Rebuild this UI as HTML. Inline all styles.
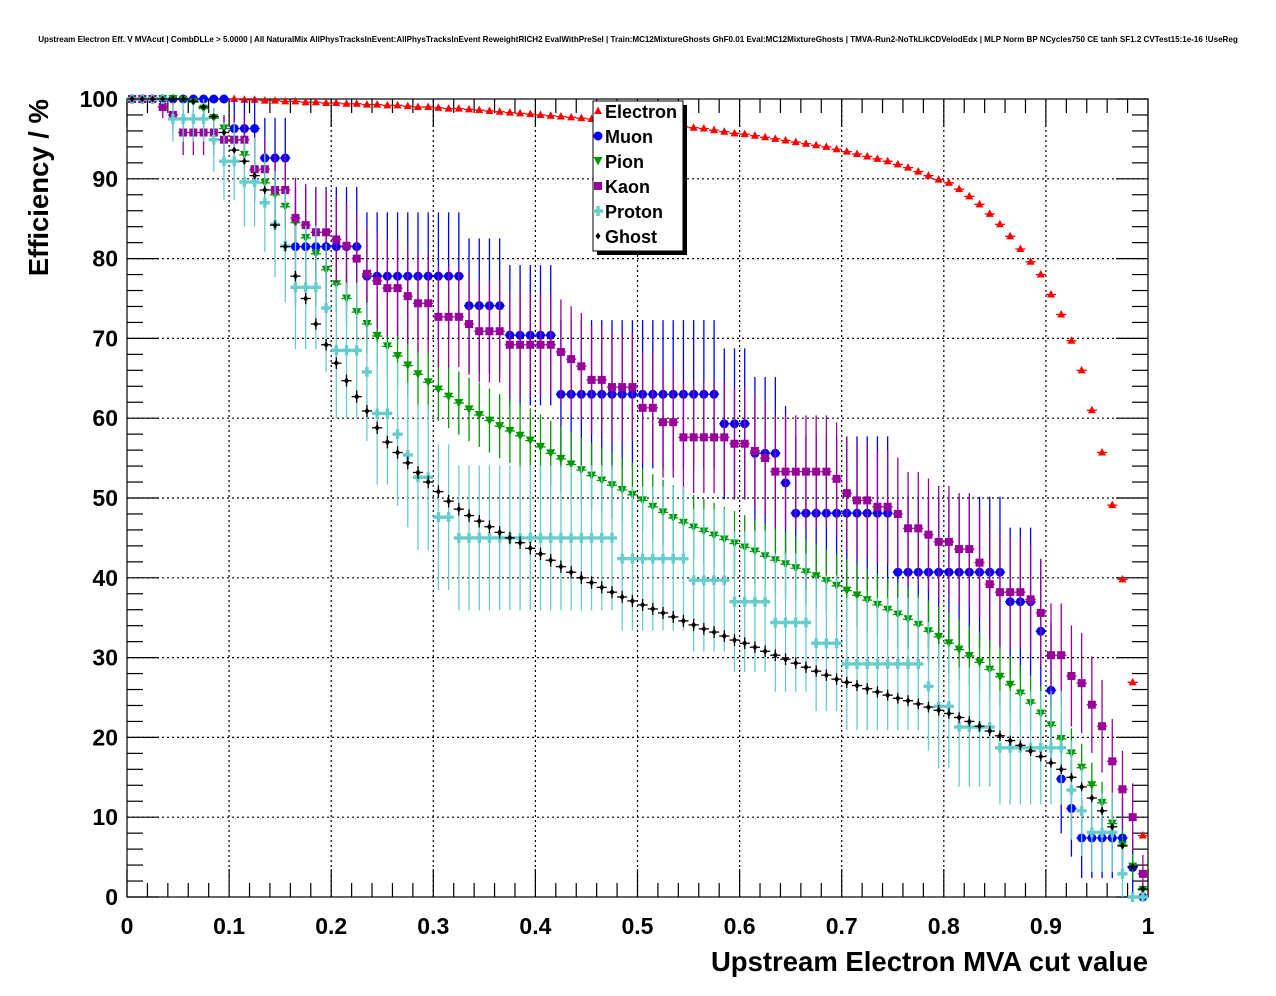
<!DOCTYPE html>
<html><head><meta charset="utf-8"><style>
body{margin:0;background:#fff;}
svg{display:block;font-family:"Liberation Sans",sans-serif;}
</style></head><body>
<svg id="c" width="1276" height="996" viewBox="0 0 1276 996">
<rect width="1276" height="996" fill="#fff"/>
<text x="638" y="42" font-size="8.05" font-weight="bold" text-anchor="middle">Upstream Electron Eff. V MVAcut | CombDLLe &gt; 5.0000 | All NaturalMix AllPhysTracksInEvent:AllPhysTracksInEvent ReweightRICH2 EvalWithPreSel | Train:MC12MixtureGhosts GhF0.01 Eval:MC12MixtureGhosts | TMVA-Run2-NoTkLikCDVelodEdx | MLP Norm BP NCycles750 CE tanh SF1.2 CVTest15:1e-16 !UseReg</text>
<g id="grid"></g>
<g id="axes"></g>
<g id="data"></g>
<g id="legend"></g>
<text x="0" y="0" transform="translate(48,99) rotate(-90)" font-size="27.5" font-weight="bold" text-anchor="end">Efficiency / %</text>
<text x="1148" y="971" font-size="27.5" font-weight="bold" text-anchor="end">Upstream Electron MVA cut value</text>
</svg>
<script>
const xTicks=[0,0.1,0.2,0.3,0.4,0.5,0.6,0.7,0.8,0.9,1];
const xTickLabels=["0","0.1","0.2","0.3","0.4","0.5","0.6","0.7","0.8","0.9","1"];
const yTicks=[0,10,20,30,40,50,60,70,80,90,100];
const yTickLabels=["0","10","20","30","40","50","60","70","80","90","100"];
const electron=[100,100,100,100,100,100,100,100,100,100,
100,99.9,99.9,99.8,99.8,99.7,99.7,99.6,99.6,99.5,
99.5,99.4,99.4,99.3,99.3,99.2,99.2,99.1,99.0,99.0,
98.9,98.8,98.8,98.7,98.6,98.5,98.4,98.3,98.2,98.1,
98.0,97.9,97.8,97.7,97.6,97.5,97.4,97.3,97.2,97.0,
96.9,96.8,96.7,96.6,96.5,96.4,96.3,96.1,95.9,95.7,
95.6,95.4,95.2,95.0,94.8,94.6,94.4,94.2,94.0,93.7,
93.4,93.1,92.8,92.5,92.2,91.8,91.4,90.9,90.4,89.9,
89.5,88.7,87.8,86.8,85.6,84.3,82.8,81.2,79.6,78.0,
75.5,73.0,69.7,66.0,61.0,55.7,49.1,39.8,26.9,7.7];
const muon=[100,100,100,100,100,100,100,100,100,100,
96.3,96.3,96.3,92.6,92.6,92.6,81.5,81.5,81.5,81.5,
81.5,81.5,81.5,77.8,77.8,77.8,77.8,77.8,77.8,77.8,
77.8,77.8,77.8,74.1,74.1,74.1,74.1,70.4,70.4,70.4,
70.4,70.4,63.0,63.0,63.0,63.0,63.0,63.0,63.0,63.0,
63.0,63.0,63.0,63.0,63.0,63.0,63.0,63.0,59.3,59.3,
59.3,55.6,55.6,55.6,51.9,48.1,48.1,48.1,48.1,48.1,
48.1,48.1,48.1,48.1,48.1,40.7,40.7,40.7,40.7,40.7,
40.7,40.7,40.7,40.7,40.7,40.7,37.0,37.0,37.0,33.3,
25.9,14.8,11.1,7.4,7.4,7.4,7.4,7.4,3.7,0];
const pion=[100,100,100,100,100,99.9,99.6,98.8,97.6,96.3,
94.8,93.0,91.0,89.5,88.0,86.5,84.5,82.6,80.6,78.6,
76.8,75.0,73.3,71.8,70.3,69.0,67.8,66.6,65.5,64.5,
63.6,62.7,61.9,61.1,60.4,59.7,59.0,58.4,57.8,57.2,
56.4,55.6,54.9,54.2,53.5,52.8,52.2,51.6,51.0,50.4,
49.7,48.9,48.2,47.5,46.9,46.3,45.8,45.3,44.8,44.3,
43.8,43.3,42.7,42.2,41.7,41.2,40.7,40.2,39.6,39.0,
38.4,37.8,37.2,36.6,36.0,35.4,34.8,34.1,33.3,32.6,
31.8,31.0,30.2,29.4,28.5,27.6,26.6,25.5,24.3,23.0,
21.5,19.8,18.0,16.2,14.0,11.8,9.2,6.5,3.8,0.9];
const kaon=[100,100,100,99.0,98.0,95.8,95.8,95.8,95.8,94.9,
94.9,94.9,91.2,91.2,88.6,88.6,85.1,84.2,83.3,83.3,
82.4,81.6,80.0,78.1,77.2,76.3,76.3,75.3,74.4,74.4,
72.7,72.7,72.7,71.8,70.9,70.9,70.9,69.2,69.2,69.2,
69.2,69.2,68.3,67.4,66.5,64.8,64.8,63.9,63.9,63.9,
61.3,61.3,59.5,59.5,57.6,57.6,57.6,57.6,57.6,56.8,
56.8,55.9,55.0,53.3,53.3,53.3,53.3,53.3,53.3,52.4,
50.6,49.7,49.7,48.9,48.9,48.0,46.2,46.2,45.4,44.5,
44.5,43.6,43.6,41.9,39.2,38.2,38.2,38.2,37.3,35.6,
30.3,30.3,27.7,26.8,24.1,21.4,17.0,13.5,10.0,2.9];
const proton=[100,100,100,100,97.5,97.5,97.5,97.5,94.9,92.2,
92.2,89.6,89.6,87.0,84.3,81.6,76.4,76.4,76.4,73.8,
68.5,68.5,68.5,65.8,60.6,60.6,58.0,55.4,52.6,52.6,
47.6,47.6,45.0,45.0,45.0,45.0,45.0,45.0,45.0,45.0,
45.0,45.0,45.0,45.0,45.0,45.0,45.0,45.0,42.4,42.4,
42.4,42.4,42.4,42.4,42.4,39.7,39.7,39.7,39.7,37.0,
37.0,37.0,37.0,34.4,34.4,34.4,34.4,31.8,31.8,31.8,
29.2,29.2,29.2,29.2,29.2,29.2,29.2,29.2,26.4,23.9,
23.9,21.3,21.3,21.3,21.3,18.7,18.7,18.7,18.7,18.7,
18.7,18.7,13.4,10.8,8.1,8.1,8.1,2.9,0,0];
const ghost=[100,100,100,100,100,100,99.7,99.0,97.8,95.8,
93.6,92.2,90.4,88.6,84.2,81.5,77.8,75.0,71.8,69.2,
66.9,64.7,62.7,60.9,58.8,57.0,55.7,54.4,53.2,52.0,
50.8,49.6,48.6,47.8,47.1,46.4,45.7,45.0,44.4,43.7,
43.0,42.2,41.4,40.7,40.0,39.4,38.8,38.2,37.6,37.1,
36.6,36.1,35.6,35.1,34.6,34.1,33.6,33.2,32.7,32.2,
31.8,31.3,30.8,30.3,29.8,29.3,28.8,28.3,27.8,27.3,
26.9,26.5,26.1,25.7,25.3,24.9,24.6,24.2,23.8,23.4,
23.0,22.5,22.0,21.4,20.8,20.2,19.6,19.0,18.3,17.6,
16.8,16.0,15.0,13.8,12.4,10.8,8.8,6.4,3.8,1.0];
const seriesNames=["Electron","Muon","Pion","Kaon","Proton","Ghost"];
const seriesN=[100000,27,150,50,30,4000];

const NS="http://www.w3.org/2000/svg";
const X0=127,X1=1148,Y0=897,Y1=99;
function xs(v){return X0+v*(X1-X0);}
function ys(p){return Y0-p/100*(Y0-Y1);}
function mk(tag,attrs,parent){const e=document.createElementNS(NS,tag);for(const k in attrs)e.setAttribute(k,attrs[k]);parent.appendChild(e);return e;}
const grid=document.getElementById('grid'),axes=document.getElementById('axes'),data=document.getElementById('data'),legend=document.getElementById('legend');
for(let i=1;i<xTicks.length-1;i++){const l=mk('line',{x1:xs(xTicks[i]),x2:xs(xTicks[i]),y1:Y0,y2:Y1,stroke:'#000','stroke-width':1.2,'stroke-dasharray':'2,3'},grid);

}
for(let i=1;i<yTicks.length-1;i++){const l=mk('line',{x1:X0,x2:X1,y1:ys(yTicks[i]),y2:ys(yTicks[i]),stroke:'#000','stroke-width':1.2,'stroke-dasharray':'2,3'},grid);

}
const fr=mk('rect',{x:X0,y:Y1,width:X1-X0,height:Y0-Y1,fill:'none',stroke:'#000','stroke-width':1.2},axes);


for(let i=0;i<=50;i++){const v=i/50;const len=(i%5===0)?28:14;const x=xs(v);
mk('line',{x1:x,x2:x,y1:Y0,y2:Y0-len,stroke:'#000','stroke-width':1.2},axes);
mk('line',{x1:x,x2:x,y1:Y1,y2:Y1+len,stroke:'#000','stroke-width':1.2},axes);}
for(let i=0;i<=50;i++){const p=i*2;const len=(i%5===0)?32:16;const y=ys(p);
mk('line',{x1:X0,x2:X0+len,y1:y,y2:y,stroke:'#000','stroke-width':1.2},axes);
mk('line',{x1:X1,x2:X1-len,y1:y,y2:y,stroke:'#000','stroke-width':1.2},axes);}
for(let i=0;i<xTicks.length;i++){const t=mk('text',{x:xs(xTicks[i]),y:934,'font-size':23,'font-weight':'bold','text-anchor':'middle'},axes);t.textContent=xTickLabels[i];

}
for(let i=0;i<yTicks.length;i++){const t=mk('text',{x:118,y:ys(yTicks[i])+8,'font-size':23,'font-weight':'bold','text-anchor':'end'},axes);t.textContent=yTickLabels[i];

}
const colors=['#ff0000','#0000ff','#009900','#990099','#66cccc','#000000'];
function marker(kind,x,y,c,parent){
 if(kind===0)return mk('polygon',{points:`${x},${y-4.5} ${x+4},${y+3} ${x-4},${y+3}`,fill:c},parent);
 if(kind===1)return mk('circle',{cx:x,cy:y,r:4.5,fill:c},parent);
 if(kind===2)return mk('polygon',{points:`${x-4.5},${y-4} ${x+4.5},${y-4} ${x},${y+4.5}`,fill:c},parent);
 if(kind===3)return mk('rect',{x:x-4,y:y-4,width:8,height:8,fill:c},parent);
 if(kind===4)return mk('path',{d:`M${x-5} ${y-1.7}h3.3v-3.3h3.4v3.3h3.3v3.4h-3.3v3.3h-3.4v-3.3h-3.3z`,fill:c},parent);
 return mk('path',{d:`M${x} ${y-3.5}L${x+2.5} ${y}L${x} ${y+3.5}L${x-2.5} ${y}z`,fill:c},parent);
}
const all=[electron,muon,pion,kaon,proton,ghost];
const hw=(X1-X0)/100;
for(let s=0;s<all.length;s++){
 const g=mk('g',{},data);
 
 
 const arr=all[s],N=seriesN[s],c=colors[s];
 for(let i=0;i<arr.length;i++){
  const v=(i+0.5)/arr.length,p=arr[i],x=xs(v),y=ys(p);
  const q=p/100,e=Math.sqrt(Math.max(q*(1-q),0.0001)/N)*100;
  const lo=Math.max(0,p-e),hi=Math.min(100,p+e);
  mk('line',{x1:x,x2:x,y1:ys(lo),y2:ys(hi),stroke:c,'stroke-width':1.3},g);
  mk('line',{x1:x-hw/2,x2:x+hw/2,y1:y,y2:y,stroke:c,'stroke-width':1.3},g);
  const m=marker(s,x,y,c,g);
  
  
 }
}
mk('rect',{x:597,y:105,width:90,height:150,fill:'#000'},legend);
const lb=mk('rect',{x:593,y:101,width:90,height:150,fill:'#fff',stroke:'#000','stroke-width':1},legend);


for(let s=0;s<seriesNames.length;s++){
 const y=111+s*25;
 const m=marker(s,598,y,colors[s],legend);
 
 
 const t=mk('text',{x:605,y:y+7,'font-size':18,'font-weight':'bold'},legend);t.textContent=seriesNames[s];
 
 
}
</script>
</body></html>
